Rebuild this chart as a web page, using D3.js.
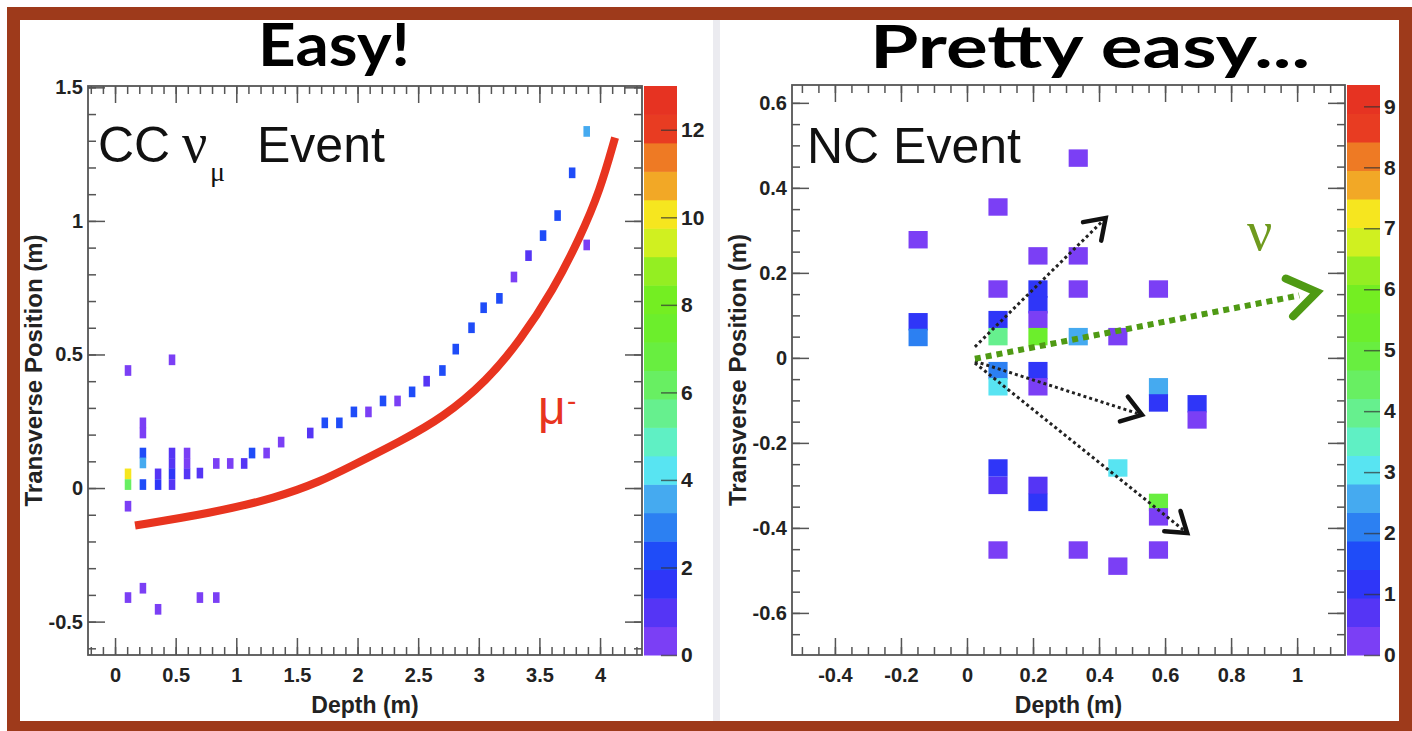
<!DOCTYPE html>
<html><head><meta charset="utf-8">
<script src="https://cdn.jsdelivr.net/npm/d3@7"></script>
<style>body{margin:0;background:#fff}svg{display:block}</style>
</head><body><svg id="c" width="1412" height="731"></svg>
<script>
// ---------- DATA ----------
// CC nu_mu event: hit cells (depth m, transverse m, energy)
const ccDepth  = [0.107,0.107,0.107,0.107,0.107, 0.23,0.23,0.23,0.23,0.23,0.23, 0.355,0.355,0.355,
  0.47,0.47,0.47,0.47,0.47, 0.594,0.594,0.594, 0.70,0.70, 0.835,0.835, 0.95, 1.065, 1.13, 1.25, 1.37,
  1.61, 1.73, 1.85, 1.97, 2.09, 2.21, 2.33, 2.45, 2.57, 2.70, 2.81, 2.94, 3.04, 3.17, 3.29, 3.41, 3.53,
  3.65, 3.77, 3.89, 3.89];
const ccTrans  = [0.44,0.053,0.013,-0.068,-0.41, 0.244,0.206,0.131,0.094,0.013,-0.375, 0.053,0.013,-0.454,
  0.131,0.092,0.053,0.013,0.48, 0.131,0.092,0.053, 0.056,-0.41, 0.092,-0.41, 0.092, 0.092, 0.131, 0.131, 0.172,
  0.206, 0.244, 0.244, 0.285, 0.285, 0.326, 0.326, 0.36, 0.40, 0.44, 0.52, 0.60, 0.675, 0.71, 0.79, 0.87, 0.945,
  1.02, 1.18, 1.335, 0.91];
const ccEnergy = [0.4,10.0,6.2,0.4,0.4, 0.5,0.6,2.0,3.5,2.0,0.6, 1.2,1.4,0.6,
  0.8,1.0,1.3,1.0,0.5, 0.5,0.6,1.0, 1.0,0.4, 0.5,0.4, 0.5, 1.0, 2.0, 0.5, 0.6,
  1.0, 2.0, 2.0, 2.2, 0.5, 2.2, 0.5, 2.0, 1.0, 2.0, 2.0, 2.0, 2.0, 2.0, 0.5, 1.0, 2.0,
  2.0, 2.0, 3.5, 0.6];

// NC event: hit cells
const ncDepth  = [-0.148,-0.148,-0.148, 0.094,0.094,0.094,0.094,0.094,0.094,0.094,0.094,0.094,
  0.215,0.215,0.215,0.215,0.215,0.215,0.215,0.215,0.215, 0.337,0.337,0.337,0.337,0.337,
  0.457,0.457,0.457, 0.58,0.58,0.58,0.58,0.58,0.58, 0.697,0.697];
const ncTrans  = [0.278,0.085,0.048, 0.355,0.162,0.09,0.05,-0.03,-0.068,-0.259,-0.30,-0.452,
  0.24,0.162,0.125,0.09,0.05,-0.03,-0.068,-0.30,-0.34, 0.47,0.24,0.162,0.05,-0.452,
  0.05,-0.259,-0.49, 0.162,-0.068,-0.106,-0.34,-0.374,-0.452, -0.108,-0.146];
const ncEnergy = [0.2,1.3,2.1, 0.2,0.2,1.3,3.9,2.1,3.0,1.2,0.6,0.2,
  0.2,1.3,1.3,0.3,5.4,1.4,0.3,0.5,1.0, 0.2,0.2,0.2,2.5,0.2,
  0.2,3.0,0.2, 0.2,2.5,1.3,4.8,0.3,0.2, 1.1,0.4];

// tick labels
const ccXTicks = [0,0.5,1,1.5,2,2.5,3,3.5,4];
const ccYTicks = [-0.5,0,0.5,1,1.5];
const ccZTicks = [0,2,4,6,8,10,12];
const ncXTicks = [-0.4,-0.2,0,0.2,0.4,0.6,0.8,1];
const ncYTicks = [-0.6,-0.4,-0.2,0,0.2,0.4,0.6];
const ncZTicks = [0,1,2,3,4,5,6,7,8,9];

// colour palette (20 contour levels, bottom -> top)
const paletteColors = ["#7b3ff5","#5535f5","#2f36f8","#1f4cf8","#2c80f2","#45aaf0","#58e4f2","#5ff0c4",
  "#66f08e","#68ef62","#68ee40","#6cee2c","#74ee22","#94ee22","#d0f020","#f6e61f","#f2a826","#ee7a24","#e83c22","#e63322"];

// annotation: muon track sketch (depth, transverse)
const muTrackDepth = [0.165,0.784,1.336,1.691,1.938,2.351,2.705,3.068,3.340,3.612,3.835,4.0,4.124];
const muTrackTrans = [-0.140,-0.095,-0.036,0.024,0.080,0.174,0.264,0.402,0.552,0.739,0.938,1.114,1.312];

// annotation arrows for NC event: start/end in data units
const arrowFromX = [0.024,0.024,0.024];
const arrowFromY = [0.026,-0.008,-0.012];
const arrowToX   = [0.42,0.53,0.667];
const arrowToY   = [0.329,-0.134,-0.412];
const nuArrowFrom = [0.024,-0.002];
const nuArrowTo   = [1.06,0.155];

// ---------- DRAW ----------
const svg = d3.select("#c");
const SANS = "'Liberation Sans', Arial, Helvetica, sans-serif";
const SERIF = "'Liberation Serif', 'Times New Roman', serif";

// frame / background
svg.append("rect").attr("x",0).attr("y",0).attr("width",1412).attr("height",731).attr("fill","#fff");
svg.append("rect").attr("x",7).attr("y",7).attr("width",1405).attr("height",724).attr("fill","#9e3a1b");
svg.append("rect").attr("x",20).attr("y",20).attr("width",1379).attr("height",701).attr("fill","#fff");
svg.append("rect").attr("x",713).attr("y",20).attr("width",7).attr("height",701).attr("fill","#ebebf0");

const palette = d3.range(20).map(i => paletteColors[i]);

function drawPanel(cfg){
  const g = svg.append("g");
  const xs = d3.scaleLinear().domain(cfg.xDom).range([cfg.x0,cfg.x1]);
  const ys = d3.scaleLinear().domain(cfg.yDom).range([cfg.y1,cfg.y0]);
  const zs = d3.scaleLinear().domain([0,cfg.zMax]).range([cfg.y1,cfg.y0]);
  const color = d3.scaleQuantize().domain([0,cfg.zMax]).range(palette);
  const clipId = "clip"+cfg.id;
  svg.append("clipPath").attr("id",clipId).append("rect")
    .attr("x",cfg.x0).attr("y",cfg.y0).attr("width",cfg.x1-cfg.x0).attr("height",cfg.y1-cfg.y0);

  // cells
  const cells = cfg.depth.map((d,i)=>({x:d,y:cfg.trans[i],v:cfg.energy[i]}));
  g.append("g").attr("clip-path",`url(#${clipId})`).selectAll("rect").data(cells).join("rect")
    .attr("x",d=>xs(d.x-cfg.cw/2)).attr("width",d=>xs(d.x+cfg.cw/2)-xs(d.x-cfg.cw/2))
    .attr("y",d=>ys(d.y+cfg.ch/2)).attr("height",d=>ys(d.y-cfg.ch/2)-ys(d.y+cfg.ch/2))
    .attr("fill",d=>color(d.v));

  // axes helpers
  const fmt = d => String(d);
  const styleAxis = (sel, labels) => {
    sel.select(".domain").remove();
    sel.selectAll(".tick line").attr("stroke","#555").attr("stroke-width",1.5);
    sel.selectAll("text").attr("fill","#222").attr("font-family",SANS).attr("font-weight","bold").attr("font-size",cfg.tickFont);
    if(!labels) sel.selectAll("text").remove();
  };
  const minorX = d3.range(Math.ceil(cfg.xDom[0]/cfg.minor-1e-9), Math.floor(cfg.xDom[1]/cfg.minor+1e-9)+1).map(k=>+(k*cfg.minor).toFixed(4));
  const minorY = d3.range(Math.ceil(cfg.yDom[0]/cfg.minor-1e-9), Math.floor(cfg.yDom[1]/cfg.minor+1e-9)+1).map(k=>+(k*cfg.minor).toFixed(4));

  // bottom
  g.append("g").attr("transform",`translate(0,${cfg.y1})`)
    .call(d3.axisBottom(xs).tickValues(cfg.xTicks).tickFormat(fmt).tickSize(-17).tickPadding(13)).call(s=>styleAxis(s,true));
  g.append("g").attr("transform",`translate(0,${cfg.y1})`)
    .call(d3.axisBottom(xs).tickValues(minorX).tickSize(-8)).call(s=>styleAxis(s,false));
  // top
  g.append("g").attr("transform",`translate(0,${cfg.y0})`)
    .call(d3.axisTop(xs).tickValues(cfg.xTicks).tickSize(-17)).call(s=>styleAxis(s,false));
  g.append("g").attr("transform",`translate(0,${cfg.y0})`)
    .call(d3.axisTop(xs).tickValues(minorX).tickSize(-8)).call(s=>styleAxis(s,false));
  // left
  g.append("g").attr("transform",`translate(${cfg.x0},0)`)
    .call(d3.axisLeft(ys).tickValues(cfg.yTicks).tickFormat(fmt).tickSize(-17).tickPadding(5)).call(s=>styleAxis(s,true));
  g.append("g").attr("transform",`translate(${cfg.x0},0)`)
    .call(d3.axisLeft(ys).tickValues(minorY).tickSize(-8)).call(s=>styleAxis(s,false));
  // right
  g.append("g").attr("transform",`translate(${cfg.x1},0)`)
    .call(d3.axisRight(ys).tickValues(cfg.yTicks).tickSize(-17)).call(s=>styleAxis(s,false));
  g.append("g").attr("transform",`translate(${cfg.x1},0)`)
    .call(d3.axisRight(ys).tickValues(minorY).tickSize(-8)).call(s=>styleAxis(s,false));

  // frame
  g.append("rect").attr("x",cfg.x0).attr("y",cfg.y0).attr("width",cfg.x1-cfg.x0).attr("height",cfg.y1-cfg.y0)
    .attr("fill","none").attr("stroke","#555").attr("stroke-width",1.8);

  // colour bar
  const step = cfg.zMax/20;
  g.append("g").selectAll("rect").data(d3.range(20)).join("rect")
    .attr("x",cfg.cb0).attr("width",cfg.cb1-cfg.cb0)
    .attr("y",i=>zs((i+1)*step)).attr("height",i=>zs(i*step)-zs((i+1)*step)+0.5)
    .attr("fill",i=>palette[i]);
  g.append("g").attr("transform",`translate(${cfg.cb1},0)`)
    .call(d3.axisRight(zs).tickValues(cfg.zTicks).tickFormat(fmt).tickSize(-16).tickPadding(4))
    .call(s=>{ styleAxis(s,true); s.selectAll(".tick line").attr("stroke","#333").attr("stroke-opacity",0.7); s.selectAll("text").attr("font-size",cfg.cbFont); });

  // axis titles
  g.append("text").attr("x",(cfg.x0+cfg.x1)/2).attr("y",713).attr("text-anchor","middle")
    .attr("font-family",SANS).attr("font-weight","bold").attr("font-size",23).attr("fill","#222").text("Depth (m)");
  g.append("text").attr("transform",`translate(${cfg.x0-46},${(cfg.y0+cfg.y1)/2}) rotate(-90)`).attr("text-anchor","middle")
    .attr("font-family",SANS).attr("font-weight","bold").attr("font-size",24).attr("fill","#222").text("Transverse Position (m)");

  return {xs,ys,g};
}

const left = drawPanel({id:"cc", x0:88,x1:642,y0:86,y1:655, xDom:[-0.223,4.346], yDom:[-0.625,1.505],
  zMax:13, cb0:644, cb1:677, xTicks:ccXTicks, yTicks:ccYTicks, zTicks:ccZTicks, minor:0.1,
  depth:ccDepth, trans:ccTrans, energy:ccEnergy, cw:0.054, ch:0.040, tickFont:20, cbFont:21});
const right = drawPanel({id:"nc", x0:792,x1:1345,y0:85,y1:655, xDom:[-0.53,1.145], yDom:[-0.699,0.642],
  zMax:9.35, cb0:1347, cb1:1380, xTicks:ncXTicks, yTicks:ncYTicks, zTicks:ncZTicks, minor:0.05,
  depth:ncDepth, trans:ncTrans, energy:ncEnergy, cw:0.058, ch:0.041, tickFont:20, cbFont:21});

// ---- left annotations ----
const mu = muTrackDepth.map((d,i)=>[d,muTrackTrans[i]]);
left.g.append("path").attr("d", d3.line().x(d=>left.xs(d[0])).y(d=>left.ys(d[1])).curve(d3.curveBasis)(mu))
  .attr("fill","none").attr("stroke","#e8341f").attr("stroke-width",8).attr("stroke-linecap","butt");
svg.append("text").attr("x",98).attr("y",162).attr("font-family",SANS).attr("font-size",50).attr("fill","#111").text("CC");
svg.append("text").attr("x",182).attr("y",162).attr("font-family",SERIF).attr("font-size",56).attr("fill","#111").text("ν");
svg.append("text").attr("x",210).attr("y",181).attr("font-family",SERIF).attr("font-size",28).attr("fill","#111").text("μ");
svg.append("text").attr("x",257).attr("y",162).attr("font-family",SANS).attr("font-size",50).attr("fill","#111").text("Event");
svg.append("text").attr("x",538).attr("y",424).attr("font-family",SANS).attr("font-size",48).attr("fill","#e8341f").text("μ");
svg.append("text").attr("x",567).attr("y",410).attr("font-family",SANS).attr("font-size",28).attr("fill","#e8341f").text("-");

// ---- right annotations ----
svg.append("text").attr("x",807).attr("y",163).attr("font-family",SANS).attr("font-size",50).attr("fill","#111").text("NC Event");
svg.append("text").attr("x",1247).attr("y",250).attr("font-family",SERIF).attr("font-size",56).attr("fill","#6f9a1e").text("ν");

function chevron(g, x1,y1,x2,y2, len, ang, color, width){
  const a = Math.atan2(y2-y1,x2-x1);
  const p1 = [x2 - len*Math.cos(a-ang), y2 - len*Math.sin(a-ang)];
  const p2 = [x2 - len*Math.cos(a+ang), y2 - len*Math.sin(a+ang)];
  g.append("path").attr("d",`M${p1[0]},${p1[1]}L${x2},${y2}L${p2[0]},${p2[1]}`)
    .attr("fill","none").attr("stroke",color).attr("stroke-width",width).attr("stroke-linejoin","miter").attr("stroke-linecap","round");
}
arrowFromX.forEach((x,i)=>{
  const X1=right.xs(x), Y1=right.ys(arrowFromY[i]), X2=right.xs(arrowToX[i]), Y2=right.ys(arrowToY[i]);
  right.g.append("line").attr("x1",X1).attr("y1",Y1).attr("x2",X2).attr("y2",Y2)
    .attr("stroke","#222").attr("stroke-width",3).attr("stroke-dasharray","3,3");
  chevron(right.g, X1,Y1,X2,Y2, 23, 0.6, "#111", 4.5);
});
{
  const X1=right.xs(nuArrowFrom[0]), Y1=right.ys(nuArrowFrom[1]), X2=right.xs(nuArrowTo[0]), Y2=right.ys(nuArrowTo[1]);
  const a=Math.atan2(Y2-Y1,X2-X1);
  right.g.append("line").attr("x1",X1).attr("y1",Y1).attr("x2",X2-18*Math.cos(a)).attr("y2",Y2-18*Math.sin(a))
    .attr("stroke","#4f9a14").attr("stroke-width",6).attr("stroke-dasharray","6,5");
  chevron(right.g, X1,Y1,X2,Y2, 34, 0.6, "#4f9a14", 8);
}

// ---- titles ----
svg.append("text").attr("x",258).attr("y",66).attr("textLength",152).attr("lengthAdjust","spacingAndGlyphs")
  .attr("font-family","'Comic Sans MS', Lato, sans-serif").attr("font-weight","bold").attr("font-size",60).attr("fill","#000").text("Easy!");
svg.append("text").attr("x",870).attr("y",68).attr("textLength",440).attr("lengthAdjust","spacingAndGlyphs")
  .attr("font-family","'Comic Sans MS', Lato, sans-serif").attr("font-weight","bold").attr("font-size",60).attr("fill","#000").text("Pretty easy...");
</script></body></html>
